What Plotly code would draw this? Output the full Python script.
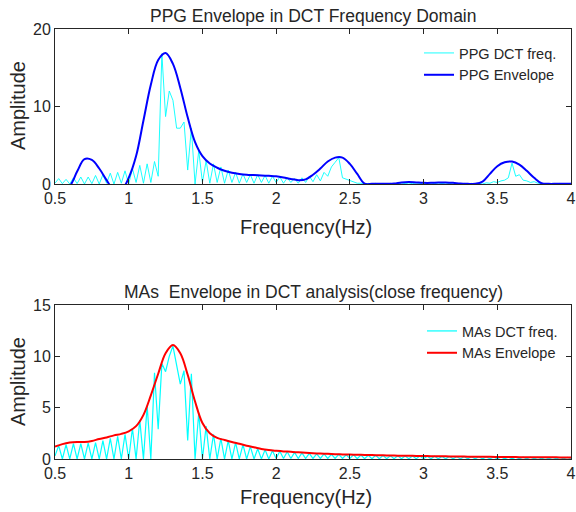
import numpy as np
import plotly.graph_objects as go

# ---------------- data ----------------
f_start, f_step = 0.5, 0.025          # DCT frequency bins (Hz)
env_start, env_step = 0.5, 0.05       # envelope sample grid (Hz)

ppg_dct = [0.1, 0.7, 0.05, 0.6, 0.0, 0.8, 0.05, 0.9, 0.0, 0.9,
           0.05, 1.1, 0.0, 1.2, 0.1, 1.4, 0.0, 1.5, 0.1, 1.7,
           0.0, 2.0, 0.2, 2.4, 0.1, 2.6, 0.2, 2.9, 1.0, 16.8,
           8.7, 12.0, 10.8, 7.2, 7.2, 8.0, 1.8, 7.2, 0.0, 4.3,
           0.2, 3.0, 0.1, 2.6, 0.2, 2.2, 0.1, 1.8, 0.2, 1.5,
           0.1, 1.3, 0.2, 1.2, 0.1, 1.2, 0.2, 1.1, 0.1, 1.0,
           0.2, 0.9, 0.1, 0.8, 0.2, 0.7, 0.1, 0.8, 0.2, 1.0,
           0.3, 1.2, 0.4, 1.5, 1.0, 2.2, 2.8, 3.4, 0.8, 0.6,
           0.4, 0.2, 0.1, 0.1, 0.0, 0.08, 0.0, 0.08, 0.0, 0.08,
           0.0, 0.08, 0.0, 0.08, 0.0, 0.08, 0.0, 0.08, 0.0, 0.08,
           0.0, 0.08, 0.0, 0.08, 0.0, 0.08, 0.0, 0.08, 0.0, 0.08,
           0.0, 0.08, 0.0, 0.08, 0.0, 0.08, 0.0, 0.15, 0.1, 0.3,
           0.2, 0.4, 0.5, 0.8, 2.7, 1.0, 1.2, 0.5, 0.4, 0.2,
           0.3, 0.1, 0.05, 0.08, 0.0, 0.08, 0.0, 0.08, 0.0, 0.05,
           0.0]

ppg_env = [-2.0, -1.0, -0.3, 1.6, 3.2, 3.1, 2.0, 0.5, -0.8, -0.8,
           0.8, 3.6, 8.2, 12.8, 16.0, 16.9, 15.5, 12.4, 8.6, 5.4,
           3.6, 2.65, 2.1, 1.7, 1.45, 1.3, 1.2, 1.15, 1.1, 1.05,
           1.0, 0.85, 0.65, 0.5, 0.6, 1.2, 2.0, 2.9, 3.4, 3.4,
           2.6, 1.3, 0.05, 0.02, 0.02, 0.02, 0.05, 0.2, 0.25, 0.2,
           0.15, 0.15, 0.2, 0.2, 0.15, 0.05, 0.02, 0.02, 0.3, 1.3,
           2.3, 2.8, 2.9, 2.5, 1.7, 0.8, 0.1, 0.02, 0.02, 0.02,
           0.02]

mas_dct = [0.3, 1.3, 0.0, 1.4, 0.0, 1.5, 0.0, 1.5, 0.0, 1.55,
           0.0, 1.6, 0.0, 1.8, 0.0, 2.0, 0.0, 2.2, 0.0, 2.4,
           0.0, 3.0, 0.0, 3.8, 0.0, 5.2, 0.0, 8.4, 2.9, 9.3,
           8.5, 10.0, 11.0, 9.0, 7.3, 8.6, 1.8, 8.3, 0.0, 4.5,
           0.0, 3.2, 0.0, 2.4, 0.0, 2.0, 0.0, 1.8, 0.0, 1.6,
           0.0, 1.4, 0.0, 1.2, 0.0, 1.0, 0.0, 0.9, 0.0, 0.8,
           0.05, 0.75, 0.05, 0.7, 0.05, 0.65, 0.05, 0.6, 0.05, 0.55,
           0.05, 0.5, 0.05, 0.5, 0.05, 0.45, 0.05, 0.45, 0.05, 0.4,
           0.05, 0.4, 0.03, 0.38, 0.03, 0.36, 0.03, 0.35, 0.03, 0.33,
           0.03, 0.32, 0.03, 0.31, 0.03, 0.3, 0.03, 0.29, 0.03, 0.28,
           0.03, 0.27, 0.02, 0.26, 0.02, 0.25, 0.02, 0.24, 0.02, 0.23,
           0.02, 0.22, 0.02, 0.21, 0.02, 0.21, 0.02, 0.2, 0.02, 0.19,
           0.02, 0.19, 0.02, 0.18, 0.02, 0.18, 0.02, 0.17, 0.02, 0.17,
           0.02, 0.16, 0.02, 0.16, 0.02, 0.15, 0.02, 0.15, 0.02, 0.15,
           0.02]

mas_env = [1.2, 1.45, 1.6, 1.65, 1.65, 1.75, 1.95, 2.1, 2.3, 2.45,
           2.7, 3.2, 4.3, 6.2, 8.3, 10.3, 11.1, 10.3, 8.2, 5.6,
           3.5, 2.5, 2.05, 1.85, 1.65, 1.48, 1.3, 1.15, 0.98, 0.87,
           0.8, 0.74, 0.7, 0.65, 0.6, 0.56, 0.53, 0.5, 0.47, 0.45,
           0.43, 0.41, 0.4, 0.38, 0.36, 0.35, 0.33, 0.32, 0.31, 0.3,
           0.29, 0.28, 0.27, 0.26, 0.25, 0.24, 0.23, 0.22, 0.21, 0.21,
           0.2, 0.19, 0.19, 0.18, 0.18, 0.17, 0.17, 0.16, 0.16, 0.15,
           0.15]

x_ticks = [0.5, 1, 1.5, 2, 2.5, 3, 3.5, 4]
x_tick_labels = ["0.5", "1", "1.5", "2", "2.5", "3", "3.5", "4"]
y1_ticks = [0, 10, 20]
y2_ticks = [0, 5, 10, 15]

f_dct = f_start + f_step * np.arange(len(ppg_dct))
f_env = env_start + env_step * np.arange(len(ppg_env))

# ---------------- figure ----------------
W, H = 576, 512
FONT = "Liberation Sans, Arial, sans-serif"
TXT = "#262626"

def px_x(p):
    return p / W

def px_y(p):
    return 1 - p / H

fig = go.Figure()
fig.add_trace(go.Scatter(x=f_dct, y=ppg_dct, mode="lines", name="PPG DCT freq.",
                         line=dict(color="#00FFFF", width=0.9), xaxis="x", yaxis="y",
                         legend="legend"))
fig.add_trace(go.Scatter(x=f_env, y=ppg_env, mode="lines", name="PPG Envelope",
                         line=dict(color="#0000FF", width=2, shape="spline", smoothing=1),
                         xaxis="x", yaxis="y", legend="legend"))
fig.add_trace(go.Scatter(x=f_dct, y=mas_dct, mode="lines", name="MAs DCT freq.",
                         line=dict(color="#00FFFF", width=1.2), xaxis="x2", yaxis="y2",
                         legend="legend2"))
fig.add_trace(go.Scatter(x=f_env, y=mas_env, mode="lines", name="MAs Envelope",
                         line=dict(color="#FF0000", width=2, shape="spline", smoothing=1),
                         xaxis="x2", yaxis="y2", legend="legend2"))

axis_common = dict(showgrid=False, zeroline=False, showline=True, linecolor=TXT, linewidth=1,
                   mirror="allticks", ticks="inside", ticklen=5, tickcolor=TXT, tickwidth=1,
                   automargin=False,
                   tickfont=dict(family=FONT, size=16, color=TXT))

xdom = [px_x(55), px_x(571)]
fig.update_layout(
    width=W, height=H, margin=dict(l=0, r=0, t=0, b=0, pad=0, autoexpand=False),
    paper_bgcolor="white", plot_bgcolor="white",
    xaxis=dict(domain=xdom, range=[0.5, 4], anchor="y", tickvals=x_ticks,
               ticktext=x_tick_labels, **axis_common),
    yaxis=dict(domain=[px_y(184), px_y(29)], range=[0, 20], anchor="x",
               tickvals=y1_ticks, **axis_common),
    xaxis2=dict(domain=xdom, range=[0.5, 4], anchor="y2", tickvals=x_ticks,
                ticktext=x_tick_labels, **axis_common),
    yaxis2=dict(domain=[px_y(459), px_y(305)], range=[0, 15], anchor="x2",
                tickvals=y2_ticks, **axis_common),
    legend=dict(x=px_x(419), y=px_y(37), xanchor="left", yanchor="top",
                bgcolor="rgba(0,0,0,0)", borderwidth=0, itemwidth=30,
                font=dict(family=FONT, size=14.5, color=TXT), tracegroupgap=0),
    legend2=dict(x=px_x(422), y=px_y(315), xanchor="left", yanchor="top",
                 bgcolor="rgba(0,0,0,0)", borderwidth=0, itemwidth=30,
                 font=dict(family=FONT, size=14.5, color=TXT), tracegroupgap=0),
    showlegend=True,
)

title_font = dict(family=FONT, size=17.5, color=TXT)
label_font = dict(family=FONT, size=20, color=TXT)
annotations = [
    dict(text="PPG Envelope in DCT Frequency Domain", x=px_x(313), y=px_y(16), font=title_font),
    dict(text="MAs  Envelope in DCT analysis(close frequency)", x=px_x(313), y=px_y(292),
         font=title_font),
    dict(text="Frequency(Hz)", x=px_x(306), y=px_y(227), font=label_font),
    dict(text="Frequency(Hz)", x=px_x(306), y=px_y(497), font=label_font),
    dict(text="Amplitude", x=px_x(18), y=px_y(106), textangle=-90, font=label_font),
    dict(text="Amplitude", x=px_x(18), y=px_y(382), textangle=-90, font=label_font),
]
for a in annotations:
    fig.add_annotation(xref="paper", yref="paper", showarrow=False,
                       xanchor="center", yanchor="middle", **a)

fig.write_html("out.html")
